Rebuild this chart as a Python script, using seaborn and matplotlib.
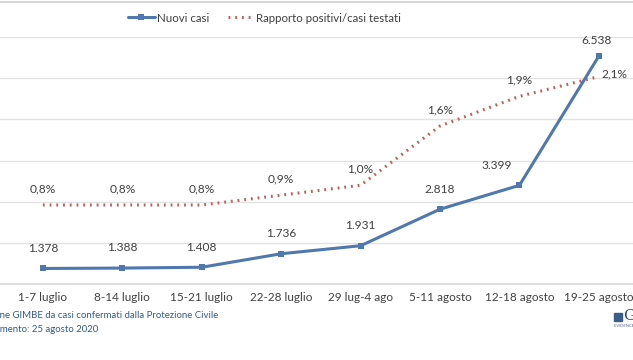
import numpy as np
import pandas as pd
import matplotlib
matplotlib.use("Agg")
import matplotlib.pyplot as plt
import seaborn as sns
from matplotlib.lines import Line2D

periods = ["1-7 luglio", "8-14 luglio", "15-21 luglio", "22-28 luglio",
           "29 lug-4 ago", "5-11 agosto", "12-18 agosto", "19-25 agosto"]
new_cases = [1378, 1388, 1408, 1736, 1931, 2818, 3399, 6538]
positive_ratio = [0.8, 0.8, 0.8, 0.9, 1.0, 1.6, 1.9, 2.1]

BLUE = "#4F78AE"
RED = "#B8625C"
TXT = "#404040"

sns.set_theme(style="white")
plt.rcParams["font.family"] = ["Lato", "DejaVu Sans"]

df = pd.DataFrame({"x": np.arange(len(periods)), "cases": new_cases,
                   "ratio": positive_ratio})

fig = plt.figure(figsize=(6.33, 3.6), dpi=100)
ax = fig.add_axes([0.0, 0.211, 1.0, 0.686])
ax2 = ax.twinx()
# grid lives on the back axes, labels go on the front one
ax2.set_zorder(1)
ax.set_zorder(2)
ax.patch.set_visible(False)

sns.lineplot(data=df, x="x", y="cases", ax=ax, color=BLUE, lw=2.2,
             marker="s", markersize=5, markeredgewidth=0, zorder=3)
sns.lineplot(data=df, x="x", y="ratio", ax=ax2, color=RED, lw=2.2,
             linestyle=(0, (0.6, 1.6)), zorder=2)

ax.set_xlim(-0.54, 7.43)
ax.set_ylim(1000, 7000)
ax2.set_ylim(0, 2.5)
ax2.set_yticks(np.linspace(0, 2.5, 7))
ax2.grid(axis="y", color="#E2E2E2", lw=1)
ax2.set_axisbelow(True)
ax.grid(False)

for a in (ax, ax2):
    for s in a.spines.values():
        s.set_visible(False)
    a.set_ylabel("")
    a.set_xlabel("")
    a.tick_params(axis="y", left=False, right=False, labelleft=False, labelright=False)

ax.set_xticks(df["x"])
ax.set_xticklabels(periods, fontsize=8.5, color=TXT)
ax.tick_params(axis="x", length=0, pad=6)
ax2.spines["bottom"].set_visible(True)
ax2.spines["bottom"].set_color("#D9D9D9")

for i, v in enumerate(new_cases):
    lab = f"{v:,}".replace(",", ".")
    off = (0, 12)
    if i == 6:
        off = (-16, 12)
    elif i == 7:
        off = (-2, 9)
    ax.annotate(lab, (i, v), xytext=off, textcoords="offset points",
                ha="center", fontsize=8.6, color=TXT, zorder=5)

for i, v in enumerate(positive_ratio):
    lab = f"{v:.1f}".replace(".", ",") + "%"
    if i == 7:
        ax.annotate(lab, (i, v), xycoords=ax2.transData, xytext=(2, 2),
                    textcoords="offset points", ha="left", va="center",
                    fontsize=8.6, color=TXT, zorder=5)
    else:
        ax.annotate(lab, (i, v), xycoords=ax2.transData, xytext=(0, 9),
                    textcoords="offset points", ha="center",
                    fontsize=8.6, color=TXT, zorder=5)

handles = [Line2D([], [], color=BLUE, lw=2.2, marker="s", markersize=5, markeredgewidth=0),
           Line2D([], [], color=RED, lw=2.2, linestyle=(0, (0.6, 1.6)))]
fig.legend(handles, ["Nuovi casi", "Rapporto positivi/casi testati"],
           loc="center", bbox_to_anchor=(0.418, 0.95), ncol=2, frameon=False,
           fontsize=8.3, handlelength=2.3, handletextpad=0.2, columnspacing=1.6,
           labelcolor=TXT)

fig.add_artist(Line2D([0, 1], [0.995, 0.995], color="#D0D0D0", lw=1.2))

fig.text(218 / 633, 1 - 316 / 360, "Elaborazione GIMBE da casi confermati dalla Protezione Civile",
         ha="right", va="center", fontsize=6.9, color="#2E5C8A")
fig.text(98 / 633, 1 - 329 / 360, "Aggiornamento: 25 agosto 2020",
         ha="right", va="center", fontsize=6.9, color="#2E5C8A")

fig.add_artist(plt.Rectangle((614 / 633, 1 - 321 / 360), 8 / 633, 8 / 360,
                             transform=fig.transFigure, color="#3B5E8C"))
fig.text(623 / 633, 1 - 316 / 360, "GIMBE", ha="left", va="center",
         fontsize=11, color="#2E4B7A", family=["DejaVu Serif"])
fig.text(614 / 633, 1 - 326 / 360, "EVIDENCE FOR HEALTH", ha="left", va="center",
         fontsize=3, color="#5A6E8A")

fig.savefig("out.png", dpi=100)
